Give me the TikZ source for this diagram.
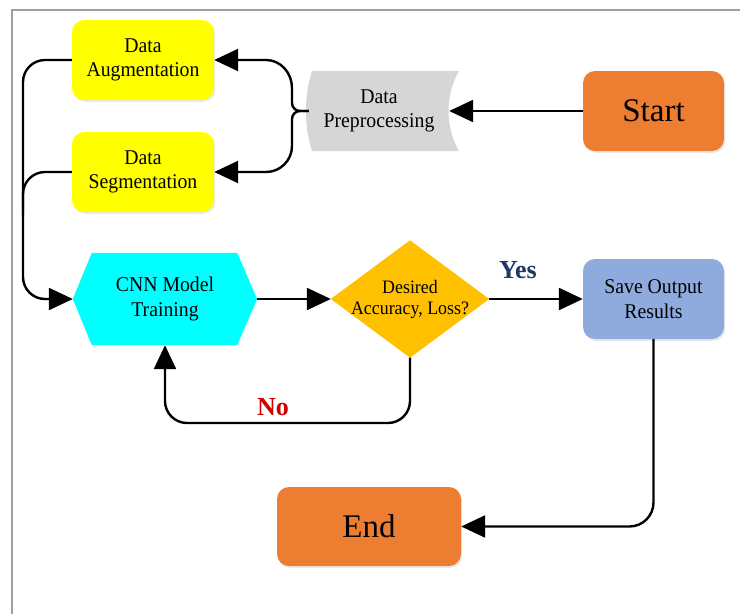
\documentclass[tikz,border=0pt]{standalone}
\usepackage{fontspec}
\setmainfont[FakeStretch=0.94]{Liberation Serif}
\newfontfamily\widefont{Liberation Serif}
\usetikzlibrary{arrows.meta,backgrounds,shadows}
\definecolor{cyellow}{HTML}{FFFF00}
\definecolor{cgray}{HTML}{D6D6D6}
\definecolor{corange}{HTML}{ED7D31}
\definecolor{ccyan}{HTML}{00FFFF}
\definecolor{cgold}{HTML}{FFC000}
\definecolor{cblue}{HTML}{8FAADC}
\definecolor{cnavy}{HTML}{1F3864}
\definecolor{cred}{HTML}{D00000}
\definecolor{cframe}{HTML}{A0A0A0}
\begin{document}
\begin{tikzpicture}[x=1pt,y=-1pt,
  box/.style={rounded corners=12pt, inner sep=0pt, align=center,
    font=\fontsize{21}{24.5}\selectfont,
    drop shadow={shadow xshift=1.2pt, shadow yshift=-1.8pt, opacity=0.18}},
  plain/.style={inner sep=0pt, align=center, font=\fontsize{21}{24.5}\selectfont},
  big/.style={font=\widefont\fontsize{33}{36}\selectfont},
  line/.style={line width=2.4pt, black},
  arr/.style={line, -{Triangle[length=24pt,width=22pt]}},
  lbl/.style={font=\widefont\bfseries\fontsize{26}{28}\selectfont}
]
\useasboundingbox (0,0) rectangle (740,614);
\draw[cframe, line width=1.4pt] (12,614) -- (12,10) -- (740,10);

% nodes
\node[box, fill=cyellow, minimum width=142pt, minimum height=80pt] (aug) at (143,60) {Data\\Augmentation};
\node[box, fill=cyellow, minimum width=142pt, minimum height=80pt] (seg) at (143,172) {Data\\Segmentation};
\node[plain, minimum width=140pt, minimum height=80pt] (pre) at (379,111) {Data\\Preprocessing};
\node[box, big, fill=corange, minimum width=141pt, minimum height=80pt] (start) at (653.5,111) {Start};
\node[plain, minimum width=184pt, minimum height=92pt] (cnn) at (165,299) {CNN Model\\Training};
\node[plain, minimum width=158pt, minimum height=117pt, font=\fontsize{19}{21}\selectfont] (dec) at (410,299) {Desired\\Accuracy, Loss?};
\node[box, fill=cblue, minimum width=141pt, minimum height=80pt] (save) at (653.5,299) {Save Output\\Results};
\node[box, big, fill=corange, minimum width=184pt, minimum height=79pt] (end) at (369,526.5) {End};

% shapes behind text
\begin{pgfonlayer}{background}
  \fill[cgray] (312,71) -- (459,71) .. controls (445,95) and (445,127) .. (459,151)
     -- (312,151) .. controls (304,127) and (304,95) .. (312,71) -- cycle;
  \fill[ccyan] (cnn.west) -- ([xshift=19pt]cnn.north west) -- ([xshift=-20pt]cnn.north east)
     -- (cnn.east) -- ([xshift=-20pt]cnn.south east) -- ([xshift=19pt]cnn.south west) -- cycle;
  \fill[cgold] (dec.west) -- (dec.north) -- (dec.east) -- (dec.south) -- cycle;
\end{pgfonlayer}

% connectors
\draw[arr] (start.west) -- (pre.east);
\draw[arr] (pre.west) -- (300,111) to[out=180,in=-90] (292,103) -- (292,88) to[out=90,in=0] (266,60) -- (aug.east);
\draw[arr] (pre.west) -- (300,111) to[out=180,in=90] (292,119) -- (292,146) to[out=-90,in=0] (266,172) -- (seg.east);
\draw[arr, rounded corners=22pt] (aug.west) -- (23,60) -- (23,299) -- (cnn.west);
\draw[line, rounded corners=22pt] (seg.west) -- (23,172) -- (23,215);
\draw[arr] (cnn.east) -- (dec.west);
\draw[arr] (dec.east) -- (save.west);
\draw[arr, rounded corners=22pt] (dec.south) -- (410,423) -- (165,423) -- (cnn.south);
\draw[arr, rounded corners=24pt] (save.south) -- (save.south |- end.east) -- (end.east);

% labels
\node[lbl, text=cnavy] (yes) at (518,270) {Yes};
\node[lbl, text=cred] (no) at (273,407) {No};
\end{tikzpicture}
\end{document}
